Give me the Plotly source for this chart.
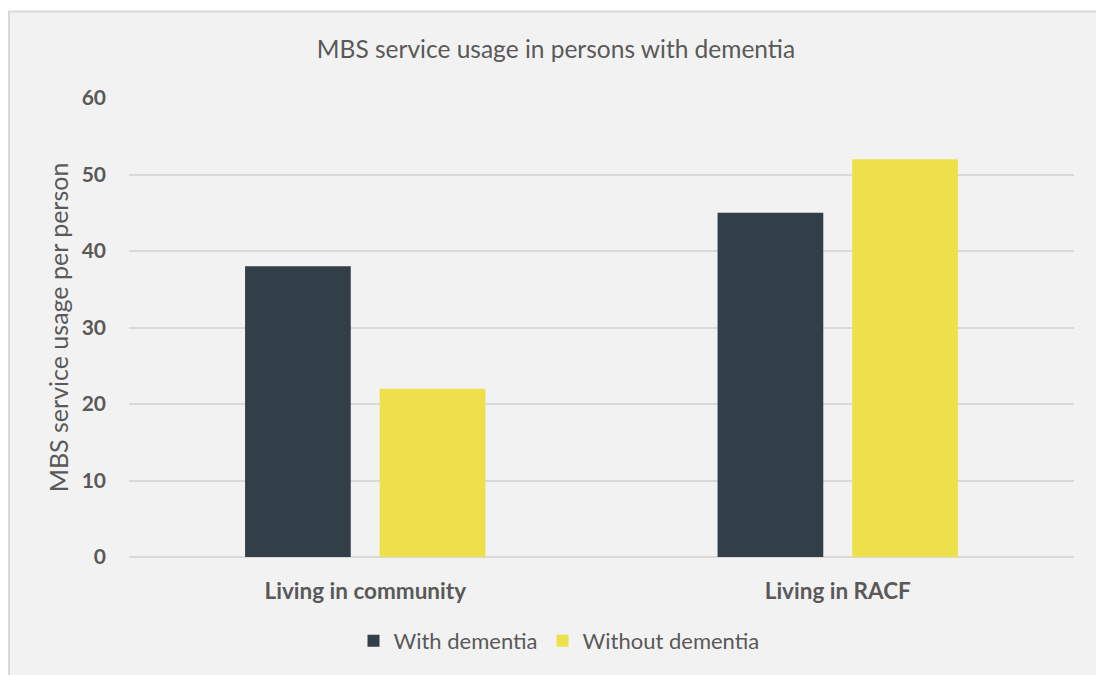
import plotly.graph_objects as go

categories = ["Living in community", "Living in RACF"]
with_dementia = [38, 45]
without_dementia = [22, 52]
series_names = ["With dementia", "Without dementia"]
y_ticks = [0, 10, 20, 30, 40, 50, 60]

W, H = 1096, 675
L, R, T, B = 129, 22, 98, 118
pw, ph = W - L - R, H - T - B
FONT = "Lato"
GREY = "#595959"

fig = go.Figure()
fig.add_trace(go.Bar(x=categories, y=with_dementia, name=series_names[0],
                     marker=dict(color="#323e48", line=dict(width=0))))
fig.add_trace(go.Bar(x=categories, y=without_dementia, name=series_names[1],
                     marker=dict(color="#ede04b", line=dict(width=0))))

# grey chart area background with border
fig.add_shape(type="rect", xref="paper", yref="paper", layer="below",
              x0=(9 - L) / pw, x1=(W + 5 - L) / pw,
              y0=-(H + 5 - (T + ph)) / ph, y1=((T + ph) - 11.5) / ph,
              fillcolor="#f2f2f2", line=dict(color="#d9d9d9", width=2))

fig.update_layout(
    width=W, height=H,
    margin=dict(l=L, r=R, t=T, b=B, pad=0),
    paper_bgcolor="white", plot_bgcolor="rgba(0,0,0,0)",
    barmode="group", bargap=0.43, bargroupgap=0.215,
    font=dict(family=FONT, color=GREY),
    title=dict(text="MBS service usage in persons with dementia",
               x=556 / W, xanchor="center", y=1 - 49 / H, yanchor="middle",
               font=dict(size=24.5, color=GREY, family=FONT)),
    showlegend=True,
    legend=dict(orientation="h", x=(559 - L) / pw, xanchor="center",
                y=-(641 - (T + ph)) / ph, yanchor="middle",
                font=dict(size=22, color=GREY, family=FONT), bgcolor="rgba(0,0,0,0)",
                itemwidth=30, traceorder="normal"),
    xaxis=dict(showgrid=False, showline=False, ticks="",
               tickfont=dict(size=22.5, color=GREY, family=FONT),
               ticklabelstandoff=18),
    yaxis=dict(range=[0, 60], tickvals=y_ticks,
               ticktext=["<b>%d</b>" % v for v in y_ticks],
               showgrid=True,
               gridcolor="#d9d9d9", gridwidth=1.5, zeroline=True,
               zerolinecolor="#d9d9d9", zerolinewidth=1.5, showline=False,
               ticks="", ticklabelstandoff=22,
               tickfont=dict(size=21, color=GREY, family=FONT),
               title=dict(text="MBS service usage per person", standoff=5,
                          font=dict(size=25, color=GREY, family=FONT))),
)
fig.update_xaxes(tickprefix="<b>", ticksuffix="</b>")

fig.write_html("out.html")
